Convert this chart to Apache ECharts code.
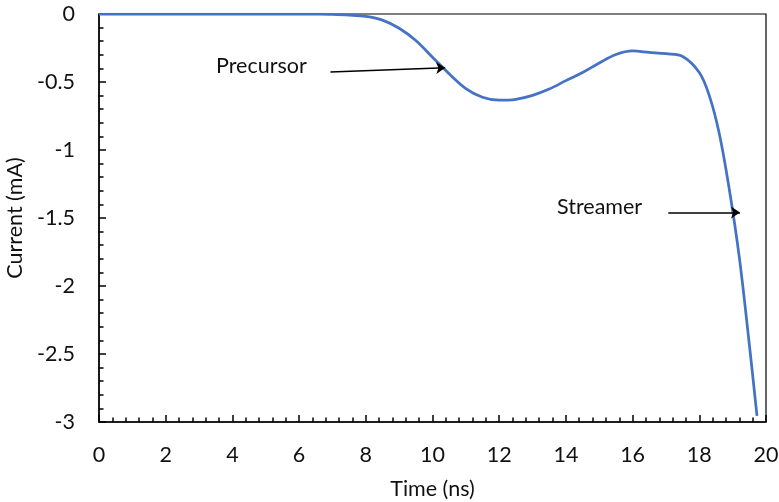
<!DOCTYPE html>
<html>
<head>
<meta charset="utf-8">
<script src="https://cdn.jsdelivr.net/npm/echarts@6/dist/echarts.min.js"></script>
<style>
  html, body { margin: 0; padding: 0; background: #fff; }
  #chart { width: 779px; height: 502px; }
</style>
</head>
<body>
<div id="chart"></div>
<script>
// Current trace of the discharge (time in ns, current in mA)
const timeNs = [0, 1, 2, 3, 4, 5, 6, 6.5, 7, 7.5, 8, 8.5, 9, 9.5, 10, 10.5, 11, 11.5, 12, 12.5,
  13, 13.5, 14, 14.5, 15, 15.5, 16, 16.5, 17, 17.5, 18, 18.3, 18.6, 18.9, 19.2, 19.5, 19.73];
const currentMA = [0, 0, 0, 0, 0, 0, 0, -0.001, -0.003, -0.008, -0.018, -0.045, -0.105, -0.195,
  -0.318, -0.44, -0.548, -0.612, -0.634, -0.627, -0.598, -0.552, -0.49, -0.43, -0.36, -0.298,
  -0.272, -0.282, -0.292, -0.312, -0.43, -0.60, -0.88, -1.29, -1.79, -2.43, -2.955];

// Axis ranges and tick steps
const xRange = [0, 20], xStep = 2;
const yRange = [-3, 0], yStep = 0.5;

// Annotation arrows: [startTime, startCurrent] -> [endTime, endCurrent]
const precursorArrow = [[6.94, -0.427], [10.38, -0.395]];
const streamerArrow = [[17.07, -1.46], [19.22, -1.46]];
const annotationLabels = ['Precursor', 'Streamer'];

const FONT = 'Lato, "Liberation Sans", sans-serif';
const FS = 21.5;
const points = timeNs.map((t, i) => [t, currentMA[i]]);

const chart = echarts.init(document.getElementById('chart'), null, { renderer: 'canvas' });

const axisCommon = {
  axisLine: { show: true, onZero: false, lineStyle: { color: '#000', width: 1.5 } },
  axisTick: { show: true, inside: true, length: 7, lineStyle: { color: '#000', width: 1.5 } },
  minorTick: { show: true, splitNumber: 5, length: 4.5, lineStyle: { color: '#000', width: 1.5 } },
  splitLine: { show: false },
  nameTextStyle: { fontFamily: FONT, fontSize: FS, color: '#111' }
};

chart.setOption({
  animation: false,
  backgroundColor: '#fff',
  grid: {
    left: 99, right: 13, top: 14, bottom: 80,
    outerBoundsMode: 'none', containLabel: false,
    show: true, borderColor: '#000', borderWidth: 1.2, backgroundColor: 'transparent'
  },
  xAxis: Object.assign({}, axisCommon, {
    type: 'value', min: xRange[0], max: xRange[1], interval: xStep,
    name: 'Time (ns)', nameLocation: 'middle', nameGap: 56,
    axisLabel: { fontFamily: FONT, fontSize: FS, color: '#111', margin: 22 }
  }),
  yAxis: Object.assign({}, axisCommon, {
    type: 'value', min: yRange[0], max: yRange[1], interval: yStep,
    name: 'Current (mA)', nameLocation: 'middle', nameGap: 61, nameRotate: 90,
    axisLabel: { fontFamily: FONT, fontSize: FS, color: '#111', margin: 24 }
  }),
  series: [{
    type: 'line',
    data: points,
    smooth: 0.35,
    showSymbol: false,
    lineStyle: { color: '#4472C4', width: 2.75 },
    markLine: {
      silent: true,
      symbol: ['none', 'arrow'],
      symbolSize: 9,
      label: { show: false },
      lineStyle: { color: '#000', width: 1.5, type: 'solid' },
      data: [
        [{ coord: precursorArrow[0] }, { coord: precursorArrow[1] }],
        [{ coord: streamerArrow[0] }, { coord: streamerArrow[1] }]
      ]
    }
  }],
  graphic: [
    { type: 'text', left: 216, top: 55,
      style: { text: annotationLabels[0], font: FS + 'px ' + FONT, fill: '#111' } },
    { type: 'text', left: 557, top: 196,
      style: { text: annotationLabels[1], font: FS + 'px ' + FONT, fill: '#111' } }
  ]
});
</script>
</body>
</html>
